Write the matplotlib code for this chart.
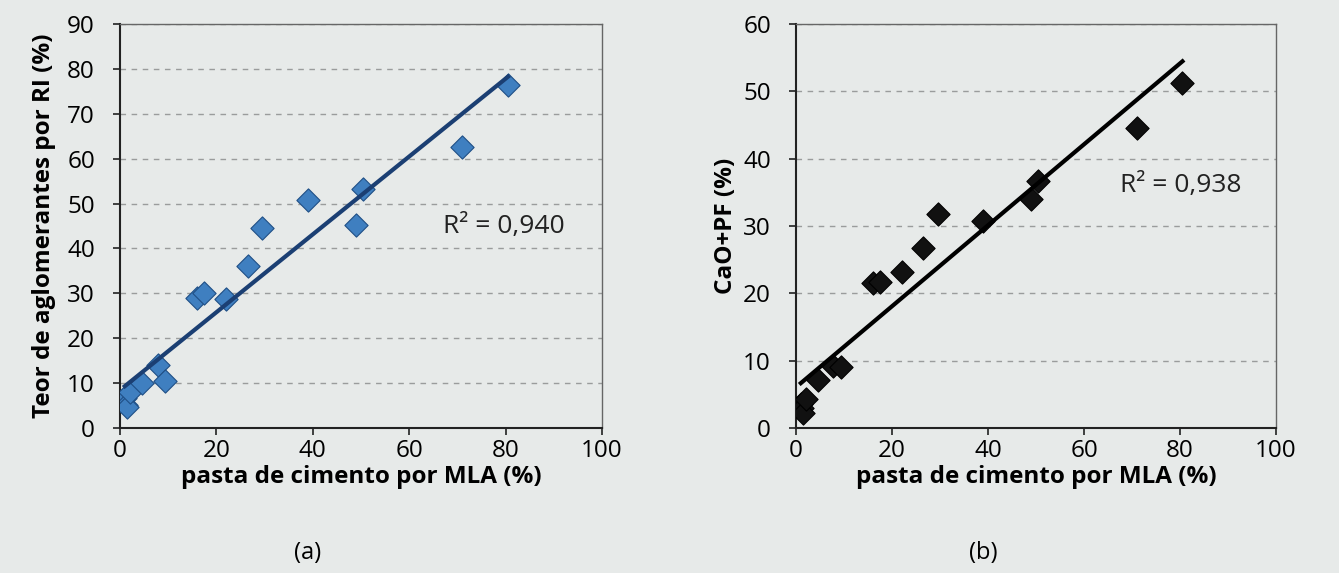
import numpy as np
import matplotlib.pyplot as plt

# pasta de cimento por MLA (%)
mla = [1.0, 1.2, 1.5, 2.0, 4.5, 7.8, 9.4, 16.0, 17.5, 22.0, 26.5, 29.5, 39.0, 49.0, 50.5, 71.0, 80.5]
# teor de aglomerantes por RI (%)
ri = [6.8, 5.2, 4.6, 8.0, 10.0, 14.0, 10.5, 29.0, 30.0, 28.8, 36.0, 44.5, 50.8, 45.2, 53.2, 62.5, 76.5]
# CaO+PF (%)
cao_pf = [3.6, 3.0, 2.3, 4.3, 7.2, 9.2, 9.0, 21.6, 21.7, 23.2, 26.8, 31.8, 30.8, 34.0, 36.7, 44.5, 51.3]

r2_labels = ['R² = 0,940', 'R² = 0,938']
panel_labels = ['(a)', '(b)']

plt.rcParams['font.family'] = ['Open Sans', 'DejaVu Sans']
bg = '#e7eae9'

fig = plt.figure(figsize=(13.39, 5.73), dpi=100, facecolor=bg)
ax1 = fig.add_axes([0.0896, 0.253, 0.360, 0.705])
ax2 = fig.add_axes([0.5945, 0.253, 0.3585, 0.705])


def panel(ax, x, y, ymax, mcolor, medge, lcolor, ylabel, r2, r2_xy, label, ylabelpad):
    ax.set_facecolor(bg)
    x = np.array(x)
    y = np.array(y)
    ax.scatter(x, y, marker='D', s=140, c=mcolor, edgecolors=medge, linewidths=0.8, zorder=3)
    k, b = np.polyfit(x, y, 1)
    xs = np.array([x.min(), x.max()])
    ax.plot(xs, k * xs + b, color=lcolor, lw=3, zorder=4)
    ax.set_xlim(0, 100)
    ax.set_ylim(0, ymax)
    ax.set_xticks(range(0, 101, 20))
    ax.set_yticks(range(0, ymax + 1, 10))
    ax.yaxis.grid(True, ls=(0, (4, 4)), color='#9a9c9c', lw=1)
    ax.set_axisbelow(True)
    ax.tick_params(labelsize=17.5, length=5, width=1.2, color='#222222')
    ax.tick_params(axis='x', pad=3)
    ax.tick_params(axis='y', pad=13)
    for s in ['left', 'bottom']:
        ax.spines[s].set_color('#222222')
        ax.spines[s].set_linewidth(1.5)
    for s in ['top', 'right']:
        ax.spines[s].set_color('#666666')
        ax.spines[s].set_linewidth(1.0)
    ax.set_xlabel('pasta de cimento por MLA (%)', fontsize=17.5, fontweight='bold', labelpad=1)
    ax.set_ylabel(ylabel, fontsize=17.5, fontweight='bold', labelpad=ylabelpad)
    ax.text(r2_xy[0], r2_xy[1], r2, fontsize=19, ha='left', va='center', color='#222222')
    ax.text(0.39, -0.31, label, transform=ax.transAxes, fontsize=17, ha='center', va='center')


panel(ax1, mla, ri, 90, '#3f7fc0', '#1f4f86', '#1b3f73',
      'Teor de aglomerantes por RI (%)', r2_labels[0], (67, 45), panel_labels[0], 8)
panel(ax2, mla, cao_pf, 60, '#111111', '#000000', '#000000',
      'CaO+PF (%)', r2_labels[1], (67.5, 36), panel_labels[1], 4)

fig.savefig('out.png', dpi=100, facecolor=bg)
